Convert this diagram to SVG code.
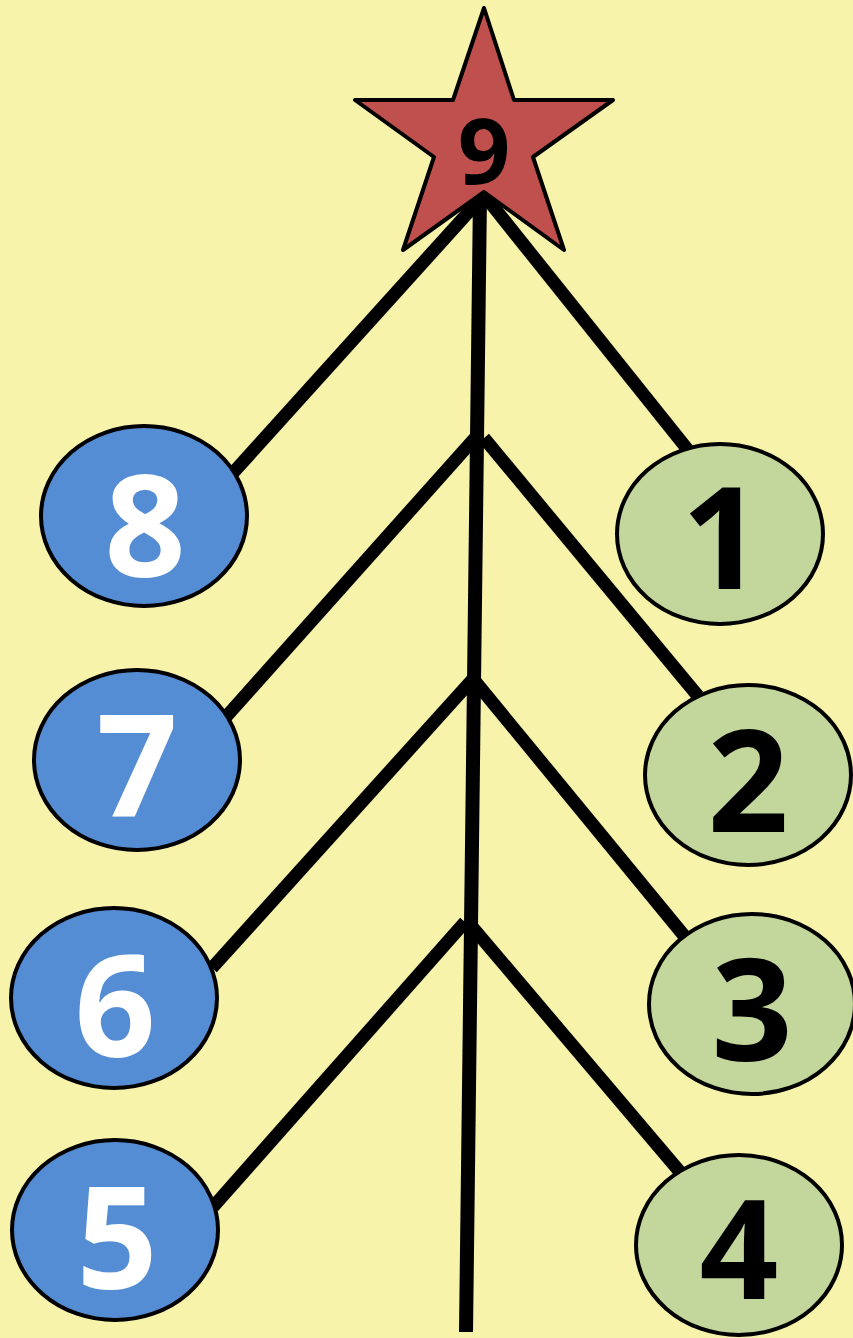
<svg xmlns="http://www.w3.org/2000/svg" width="853" height="1338" viewBox="0 0 853 1338">
<style>
.ln{stroke:#000;stroke-width:13;fill:none}
.nd{stroke:#000;stroke-width:4}
.b{fill:#548DD4}
.g{fill:#C3D69B}
.t{font-family:"Open Sans","Liberation Sans",sans-serif;font-weight:700;font-size:142px;text-anchor:middle}
.w{fill:#fff}
.k{fill:#000}
</style>
<rect width="853" height="1338" fill="#F7F3AA"/>
<g id="connectors">
<line class="ln" x1="480" y1="195" x2="466" y2="1332" style="stroke-width:14"/>
<line class="ln" x1="484" y1="195" x2="232" y2="474"/>
<line class="ln" x1="475" y1="438" x2="225" y2="718"/>
<line class="ln" x1="472" y1="680" x2="212" y2="968"/>
<line class="ln" x1="465" y1="922" x2="213" y2="1207"/>
<line class="ln" x1="484" y1="195" x2="688" y2="450"/>
<line class="ln" x1="484" y1="438" x2="698" y2="696"/>
<line class="ln" x1="474" y1="680" x2="686" y2="938"/>
<line class="ln" x1="468" y1="922" x2="680" y2="1172"/>
</g>
<g id="node9">
<polygon points="484,8 514,100 613,100 533,157 564,250 484,192 403,250 434,157 355,100 453,100" fill="#C0504D" stroke="#000" stroke-width="4" stroke-linejoin="round"/>
<text class="t k" x="484" y="184" style="font-size:92px">9</text>
</g>
<g id="node8"><ellipse class="nd b" cx="144" cy="516" rx="103" ry="90"/><text class="t w" x="145" y="577">8</text></g>
<g id="node7"><ellipse class="nd b" cx="137" cy="760" rx="103" ry="90"/><text class="t w" x="137" y="816">7</text></g>
<g id="node6"><ellipse class="nd b" cx="114" cy="998" rx="103" ry="90"/><text class="t w" x="115" y="1057">6</text></g>
<g id="node5"><ellipse class="nd b" cx="115" cy="1230" rx="103" ry="90"/><text class="t w" x="117" y="1289">5</text></g>
<g id="node1"><ellipse class="nd g" cx="720" cy="534" rx="103" ry="90"/><text class="t k" x="722" y="589">1</text></g>
<g id="node2"><ellipse class="nd g" cx="748" cy="775" rx="103" ry="90"/><text class="t k" x="748" y="832">2</text></g>
<g id="node3"><ellipse class="nd g" cx="752" cy="1004" rx="103" ry="90"/><text class="t k" x="752" y="1061">3</text></g>
<g id="node4"><ellipse class="nd g" cx="739" cy="1245" rx="103" ry="90"/><text class="t k" x="739" y="1299" style="font-size:138px">4</text></g>
</svg>
